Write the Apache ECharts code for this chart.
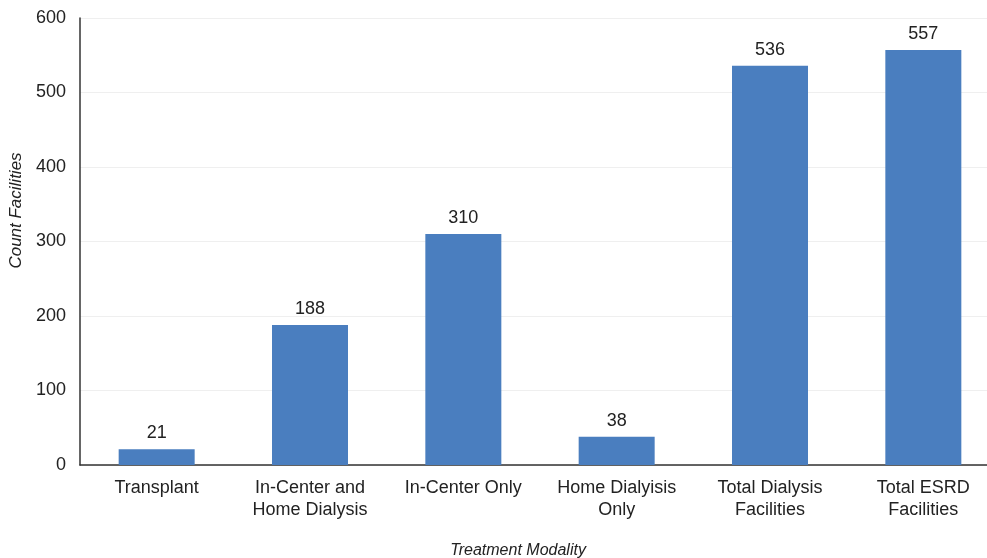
<!DOCTYPE html>
<html>
<head>
<meta charset="utf-8">
<script src="https://cdn.jsdelivr.net/npm/echarts@6/dist/echarts.min.js"></script>
<style>
  html, body { margin: 0; padding: 0; background: #fff; overflow: hidden; }
  #chart { width: 987px; height: 558px; }
</style>
</head>
<body>
<div id="chart"></div>
<script>
const categories = [
    'Transplant',
    'In-Center and\nHome Dialysis',
    'In-Center Only',
    'Home Dialyisis\nOnly',
    'Total Dialysis\nFacilities',
    'Total ESRD\nFacilities'
];
const counts = [21, 188, 310, 38, 536, 557];
const yTicks = [0, 100, 200, 300, 400, 500, 600];

const chart = echarts.init(document.getElementById('chart'));

const font = 'Liberation Sans, Arial, sans-serif';

const option = {
    animation: false,
    textStyle: { fontFamily: font },
    grid: { left: 80, top: 18, width: 920, height: 447, outerBoundsMode: 'none', containLabel: false },
    xAxis: {
        type: 'category',
        data: categories,
        name: 'Treatment Modality',
        nameLocation: 'middle',
        nameGap: 78,
        nameTextStyle: { fontStyle: 'italic', fontSize: 16, color: '#222', padding: [0, 44, 0, 0] },
        axisLine: { lineStyle: { color: '#333', width: 1.5 } },
        axisTick: { show: false },
        axisLabel: { fontSize: 18, color: '#222', lineHeight: 22, margin: 12, interval: 0 }
    },
    yAxis: {
        type: 'value',
        min: yTicks[0],
        max: yTicks[yTicks.length - 1],
        interval: 100,
        name: 'Count Facilities',
        nameLocation: 'middle',
        nameGap: 52,
        nameTextStyle: { fontStyle: 'italic', fontSize: 17, color: '#222', padding: [0, 0, 0, 62] },
        axisLine: { show: true, lineStyle: { color: '#333', width: 1.5 } },
        axisTick: { show: false },
        axisLabel: { fontSize: 18, color: '#222', margin: 14 },
        splitLine: { lineStyle: { color: '#efefef' } }
    },
    series: [{
        type: 'bar',
        data: counts,
        barWidth: 76,
        itemStyle: { color: '#4a7ebf' },
        label: {
            show: true,
            position: 'top',
            distance: 7,
            fontSize: 18,
            color: '#222'
        }
    }]
};

chart.setOption(option);
</script>
</body>
</html>
